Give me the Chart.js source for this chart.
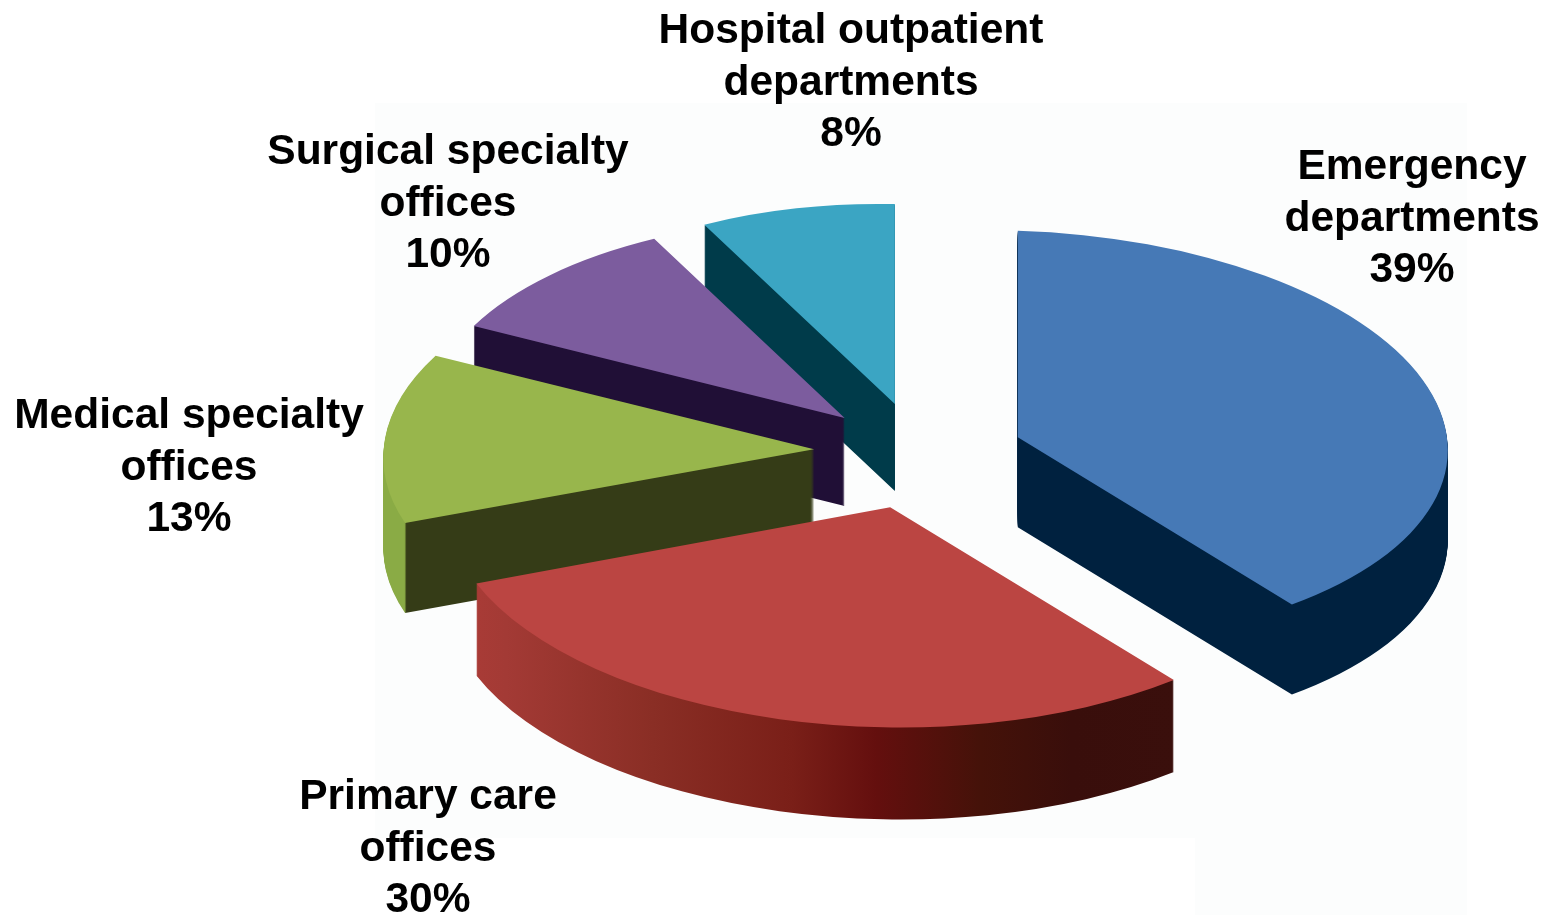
<!DOCTYPE html>
<html>
<head>
<meta charset="utf-8">
<title>Share of visits by site of care</title>
<script src="https://cdn.jsdelivr.net/npm/chart.js@4/dist/chart.umd.min.js"></script>
<style>
  html, body { margin: 0; padding: 0; background: #fff; }
  canvas { display: block; }
</style>
</head>
<body>
<canvas id="pie" width="1543" height="915"></canvas>
<script>
/* ===== data ===== */
const categories = [
  ["Emergency", "departments"],
  ["Primary care", "offices"],
  ["Medical specialty", "offices"],
  ["Surgical specialty", "offices"],
  ["Hospital outpatient", "departments"]
];
const shares = [39, 30, 13, 10, 8];

/* ===== look of each slice ===== */
const topColors = ["#4679b6", "#bb4542", "#98b64c", "#7c5c9e", "#3ba5c3"];
const sideStops = [
  [[0, "#00213f"], [1, "#00213f"]],
  [[0, "#a83b36"], [0.04, "#a33a35"], [0.25, "#8a2e25"], [0.45, "#7a1f18"],
   [0.57, "#640f0e"], [0.72, "#451209"], [0.85, "#390e0b"], [1, "#3a0f0c"]],
  [[0, "#8aab45"], [0.0475, "#8aab45"], [0.0525, "#353c17"], [1, "#353c17"]],
  [[0, "#200f36"], [1, "#200f36"]],
  [[0, "#003b4a"], [1, "#003b4a"]]
];
const sideRange = [[1000, 1450], [478, 1176], [384, 814], [470, 846], [700, 896]];
const explode = [105, 116, 105, 102, 97];
const dropY = [4, 0, 0, 2, 0];
/* fake perspective: every slice gets its own flattening */
const sliceWidth = [1, 1.035, 1, 0.965, 0.92];
const sliceSquash = [0.48, 0.512, 0.49, 0.466, 0.465];
const shearX = [0, 0, -0.058, -0.025, 0];
const shearY = [0.03, 0.012, 0.01, 0.0176, 0.02];
const depth = [90, 92, 90, 88, 87];
const drawOrder = [4, 3, 2, 1, 0];

/* label centre x, first baseline y */
const labelX = [1412, 428, 189, 448, 851];
const labelY = [179, 809, 428, 164, 43];
const labelFont = "bold 42.5px 'Liberation Sans', Arial, sans-serif";
const lineStep = 51.5;

/* ===== 3d pie plugin ===== */
function withColor(arc, color, ctx) {
  const old = arc.options;
  arc.options = Object.create(old, { backgroundColor: { value: color } });
  arc.draw(ctx);
  arc.options = old;
}

const pie3d = {
  id: "pie3d",
  beforeDraw(chart) {
    const ctx = chart.ctx;
    ctx.save();
    ctx.fillStyle = "#fcfdfd";
    ctx.fillRect(375, 103, 1092, 735);
    ctx.fillRect(1195, 838, 272, 77);
    ctx.restore();
  },
  beforeDatasetsDraw(chart) {
    const ctx = chart.ctx;
    const arcs = chart.getDatasetMeta(0).data;

    drawOrder.forEach(i => {
      const arc = arcs[i];
      const mid = (arc.startAngle + arc.endAngle) / 2;
      const tx = arc.x + Math.cos(mid) * explode[i];
      const ty = arc.y + Math.sin(mid) * explode[i] * 0.5 + dropY[i];
      const w = sliceWidth[i], k = shearX[i];
      const place = down => {
        ctx.translate(tx, ty + down);
        ctx.transform(w, shearY[i], k, sliceSquash[i], 0, 0);
        ctx.translate(-arc.x, -arc.y);
      };

      /* side colours should change along screen x, so undo the slice transform */
      const span = sideRange[i][1] - sideRange[i][0];
      const x0 = arc.x + (sideRange[i][0] - tx) / w;
      const len = span / (w * w + k * k);
      const side = ctx.createLinearGradient(x0, arc.y, x0 + w * len, arc.y + k * len);
      sideStops[i].forEach(s => side.addColorStop(s[0], s[1]));

      for (let d = depth[i]; d > 0; d--) {
        ctx.save();
        place(d);
        withColor(arc, side, ctx);
        ctx.restore();
      }
      ctx.save();
      place(0);
      withColor(arc, topColors[i], ctx);
      ctx.restore();
    });
    return false;
  },
  afterDraw(chart) {
    const ctx = chart.ctx;
    ctx.save();
    ctx.font = labelFont;
    ctx.fillStyle = "#000";
    ctx.textAlign = "center";
    categories.forEach((lines, i) => {
      lines.concat(shares[i] + "%").forEach((t, n) => {
        ctx.fillText(t, labelX[i], labelY[i] + n * lineStep);
      });
    });
    ctx.restore();
  }
};

/* ===== chart ===== */
new Chart(document.getElementById("pie"), {
  type: "pie",
  data: {
    labels: categories.map(c => c.join(" ")),
    datasets: [{
      data: shares,
      backgroundColor: topColors,
      borderWidth: 0,
      radius: 430
    }]
  },
  options: {
    responsive: false,
    animation: false,
    layout: { padding: { left: 295, bottom: 13 } },
    plugins: {
      legend: { display: false },
      tooltip: { enabled: false }
    }
  },
  plugins: [pie3d]
});
</script>
</body>
</html>
